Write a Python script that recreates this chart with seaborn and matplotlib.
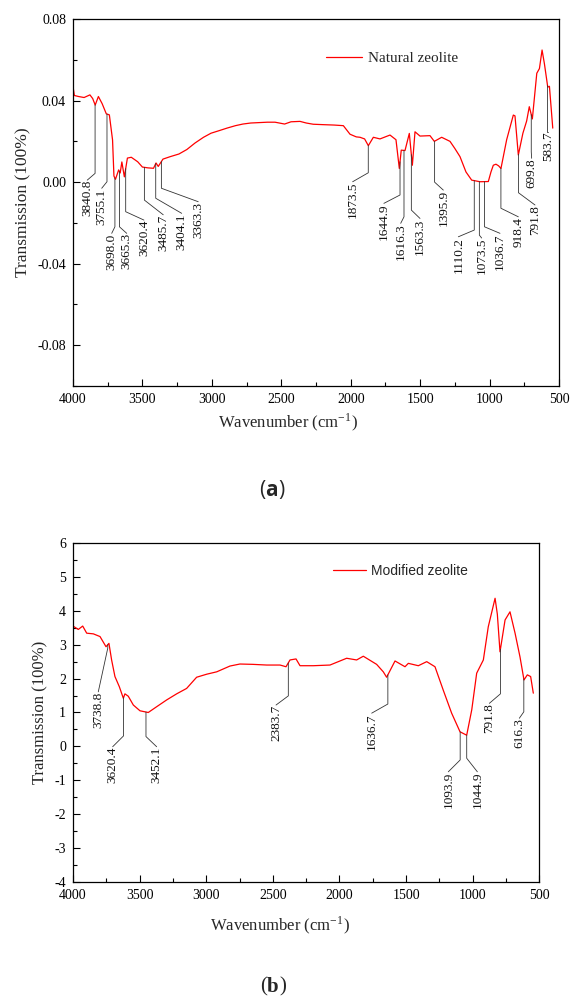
import numpy as np
import pandas as pd
import matplotlib
matplotlib.use("Agg")
import matplotlib.pyplot as plt
from matplotlib.ticker import MultipleLocator
import seaborn as sns

# ---------------- data ----------------
wn_a = [4000, 3990, 3960, 3920, 3878, 3858, 3840, 3817, 3790, 3760, 3738, 3715, 3705, 3694,
        3671, 3660, 3648, 3630, 3608, 3580, 3534, 3500, 3460, 3420, 3402, 3386, 3352, 3300,
        3237, 3180, 3121, 3060, 3006, 2950, 2891, 2830, 2776, 2720, 2660, 2600, 2545, 2476,
        2430, 2365, 2320, 2270, 2200, 2120, 2053, 2005, 1960, 1933, 1900, 1873, 1837, 1789,
        1717, 1674, 1650, 1636, 1609, 1578, 1556, 1537, 1501, 1429, 1398, 1345, 1285, 1250,
        1213, 1170, 1129, 1069, 1009, 990, 973, 954, 935, 918, 877, 829, 817, 793, 760, 733,
        714, 692, 660, 641, 622, 605, 581, 569, 545]
tr_a = [0.0470, 0.0425, 0.0420, 0.0415, 0.0428, 0.0410, 0.0378, 0.0420, 0.0385, 0.0335,
        0.0330, 0.0207, 0.0030, 0.0014, 0.0060, 0.0045, 0.0099, 0.0026, 0.0118, 0.0122,
        0.0100, 0.0074, 0.0070, 0.0068, 0.0094, 0.0077, 0.0113, 0.0125, 0.0138, 0.0160,
        0.0192, 0.0220, 0.0240, 0.0252, 0.0265, 0.0277, 0.0285, 0.0290, 0.0292, 0.0294,
        0.0294, 0.0285, 0.0296, 0.0298, 0.0290, 0.0284, 0.0282, 0.0280, 0.0277, 0.0235,
        0.0222, 0.0220, 0.0212, 0.0179, 0.0220, 0.0212, 0.0231, 0.0208, 0.0067, 0.0157,
        0.0155, 0.0239, 0.0083, 0.0247, 0.0226, 0.0228, 0.0200, 0.0220, 0.0200, 0.0165,
        0.0125, 0.0050, 0.0010, 0.0002, 0.0003, 0.0050, 0.0083, 0.0088, 0.0080, 0.0067,
        0.0208, 0.0329, 0.0325, 0.0133, 0.0240, 0.0300, 0.0370, 0.0310, 0.0534, 0.0557,
        0.0648, 0.0580, 0.0466, 0.0470, 0.0265]

wn_b = [4000, 3960, 3927, 3897, 3847, 3797, 3752, 3730, 3710, 3685, 3652, 3622, 3610, 3585,
        3547, 3497, 3435, 3372, 3297, 3222, 3147, 3072, 2996, 2921, 2822, 2747, 2650, 2546,
        2446, 2401, 2371, 2326, 2296, 2196, 2071, 1946, 1871, 1821, 1721, 1671, 1646, 1583,
        1508, 1483, 1408, 1345, 1283, 1221, 1158, 1095, 1045, 1007, 970, 920, 883, 832, 815,
        795, 757, 720, 682, 645, 615, 590, 565, 545]
tr_b = [3.55, 3.45, 3.55, 3.34, 3.32, 3.24, 2.94, 3.04, 2.55, 2.06, 1.76, 1.42, 1.55, 1.48,
        1.22, 1.05, 1.00, 1.17, 1.37, 1.55, 1.71, 2.04, 2.13, 2.20, 2.37, 2.43, 2.42, 2.40,
        2.40, 2.35, 2.55, 2.58, 2.38, 2.38, 2.40, 2.60, 2.55, 2.66, 2.42, 2.20, 2.04, 2.52,
        2.35, 2.45, 2.38, 2.50, 2.35, 1.66, 0.98, 0.43, 0.33, 1.08, 2.16, 2.55, 3.53, 4.37,
        3.90, 2.79, 3.73, 3.97, 3.34, 2.64, 1.96, 2.11, 2.06, 1.57]

peaks_a = [3840.8, 3755.1, 3698.0, 3665.3, 3620.4, 3485.7, 3404.1, 3363.3, 1873.5, 1644.9,
           1616.3, 1563.3, 1395.9, 1110.2, 1073.5, 1036.7, 918.4, 791.8, 699.8, 583.7]
peaks_b = [3738.8, 3620.4, 3452.1, 2383.7, 1636.7, 1093.9, 1044.9, 791.8, 616.3]

# leader-line layout (knee y, text x, text top y)
lead_a = [(0.0043, 3897, 0.0010), (0.0002, 3793, -0.0030), (-0.0219, 3721, -0.0251),
          (-0.0219, 3613, -0.0251), (-0.0145, 3489, -0.0186), (-0.0088, 3350, -0.0160),
          (-0.0079, 3217, -0.0153), (-0.0030, 3098, -0.0096), (0.0046, 1986, 0.0002),
          (-0.0063, 1761, -0.0104), (-0.0170, 1640, -0.0202), (-0.0137, 1501, -0.0178),
          (0.0000, 1333, -0.0039), (-0.0235, 1225, -0.0268), (-0.0260, 1057, -0.0274),
          (-0.0219, 925, -0.0251), (-0.0128, 793, -0.0170), (-0.0052, 673, -0.0112),
          (0.0149, 697, 0.0117), (0.0247, 577, 0.0247)]
lead_b = [(2.90, 3810, 1.61), (0.31, 3702, -0.01), (0.29, 3372, -0.01), (1.49, 2476, 1.22),
          (1.25, 1758, 0.98), (-0.40, 1183, -0.75), (-0.35, 965, -0.75), (1.55, 875, 1.27),
          (1.02, 650, 0.83)]

df_a = pd.DataFrame({"Wavenumber": wn_a, "Transmission": tr_a})
df_b = pd.DataFrame({"Wavenumber": wn_b, "Transmission": tr_b})

# ---------------- style ----------------
sns.set_theme(style="ticks")
plt.rcParams["font.family"] = ["Liberation Serif", "DejaVu Serif"]
plt.rcParams["mathtext.fontset"] = "stix"
plt.rcParams["axes.linewidth"] = 0.8

fig = plt.figure(figsize=(5.71, 9.96), dpi=100)
ax1 = fig.add_axes([0.1278, 0.6124, 0.8512, 0.3685])
ax2 = fig.add_axes([0.1278, 0.1145, 0.8167, 0.3403])


def draw(ax, df, label, peaks, lead, ylim, ymaj, ymin, fmt, legfont, legxy, ann_fs):
    sns.lineplot(data=df, x="Wavenumber", y="Transmission", ax=ax, color="#ff0000",
                 lw=0.9, sort=False, estimator=None, label=label)
    ax.set_xlim(4000, 500)
    ax.set_ylim(*ylim)
    ax.xaxis.set_major_locator(MultipleLocator(500))
    ax.xaxis.set_minor_locator(MultipleLocator(250))
    ax.yaxis.set_major_locator(MultipleLocator(ymaj))
    ax.yaxis.set_minor_locator(MultipleLocator(ymin))
    ax.yaxis.set_major_formatter(plt.FuncFormatter(fmt))
    ax.tick_params(which="both", direction="in", top=False, right=False, labelsize=10,
                   colors="black", pad=5)
    ax.tick_params(which="major", length=5, width=0.8)
    ax.tick_params(which="minor", length=3, width=0.8)
    for s in ax.spines.values():
        s.set_visible(True)
        s.set_color("black")
        s.set_linewidth(0.9)
    ax.set_xlabel("")
    ax.set_ylabel("Transmission (100%)", fontsize=12.5, labelpad=4)
    x_rev = np.array(df["Wavenumber"])[::-1]
    y_rev = np.array(df["Transmission"])[::-1]
    for p, (ky, tx, ty) in zip(peaks, lead):
        y0 = np.interp(p, x_rev, y_rev)
        ax.plot([p, p, tx], [y0, ky, ty], color="#333333", lw=0.6)
        ax.text(tx, ty, f"{p:.1f}", rotation=90, ha="center", va="top",
                fontsize=ann_fs, color="#111111")
    leg = ax.legend(loc="center left", bbox_to_anchor=legxy, frameon=False,
                    borderpad=0, borderaxespad=0, handlelength=2.4, handletextpad=0.35,
                    prop=legfont)
    return leg


draw(ax1, df_a, "Natural zeolite", peaks_a, lead_a, (-0.1, 0.08), 0.04, 0.02,
     lambda v, pos: f"{v:.2f}", {"family": "Liberation Serif", "size": 11},
     (0.52, 0.893), 9.5)
draw(ax2, df_b, "Modified zeolite", peaks_b, lead_b, (-4, 6), 1, 0.5,
     lambda v, pos: f"{v:.0f}", {"family": "Liberation Sans", "size": 10},
     (0.5576, 0.918), 9.5)
ax2.yaxis.label.set_size(12)

fig.text(288 / 571, 1 - 422 / 996, "Wavenumber (cm$^{\\mathregular{-1}}$)", ha="center",
         va="center", fontsize=12)
fig.text(280 / 571, 1 - 925 / 996, "Wavenumber (cm$^{\\mathregular{-1}}$)", ha="center",
         va="center", fontsize=12)
fig.text(265 / 571, 1 - 490 / 996, "(", ha="right", va="center", fontsize=15,
         family="Open Sans")
fig.text(265 / 571, 1 - 490 / 996, "a", ha="left", va="center", fontsize=15,
         family="Open Sans", weight="bold")
fig.text(265 / 571 + 0.024, 1 - 490 / 996, ")", ha="left", va="center", fontsize=15,
         family="Open Sans")
fig.text(267 / 571, 1 - 987 / 996, "(", ha="right", va="center", fontsize=15,
         family="Liberation Serif")
fig.text(267 / 571, 1 - 987 / 996, "b", ha="left", va="center", fontsize=15,
         family="Liberation Serif", weight="bold")
fig.text(267 / 571 + 0.022, 1 - 987 / 996, ")", ha="left", va="center", fontsize=15,
         family="Liberation Serif")

fig.savefig("out.png", dpi=100, facecolor="white")
